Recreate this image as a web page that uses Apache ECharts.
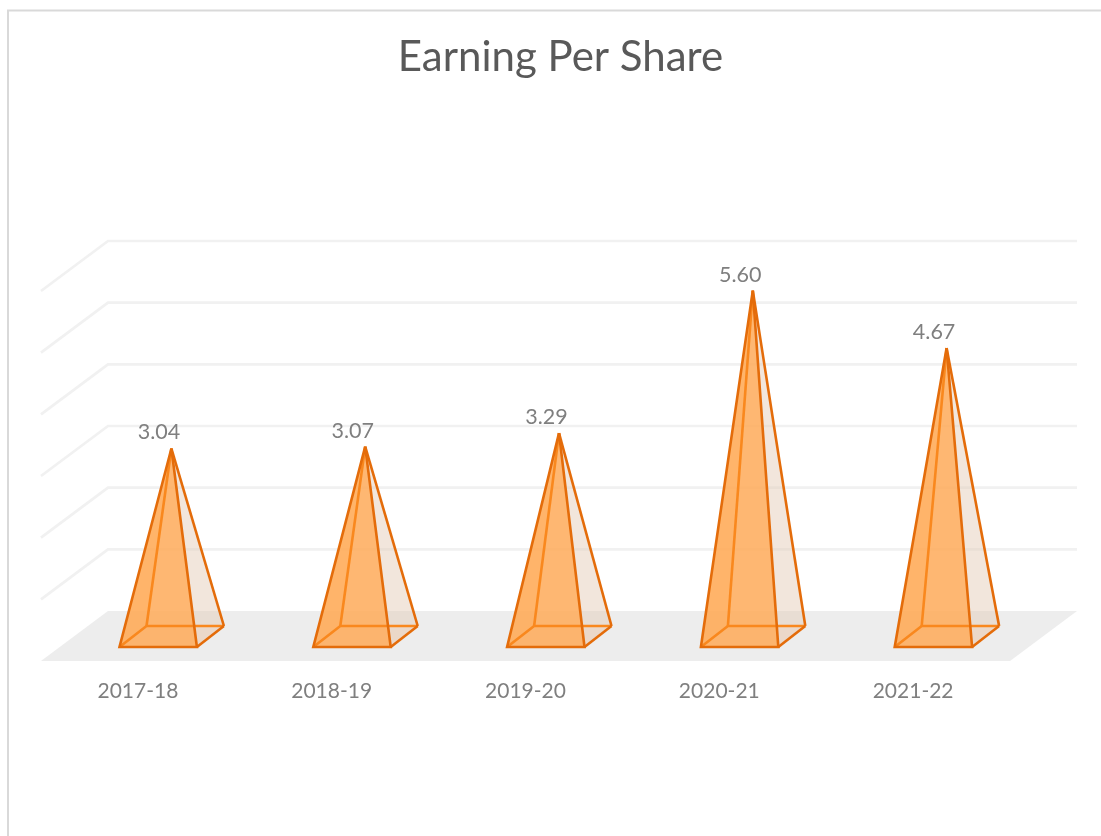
<!DOCTYPE html>
<html>
<head>
<meta charset="utf-8">
<title>Earning Per Share</title>
<script src="https://cdn.jsdelivr.net/npm/echarts@6/dist/echarts.min.js"></script>
<style>
    html, body { margin: 0; padding: 0; background: #fff; overflow: hidden; }
    #chart { width: 1101px; height: 836px; }
</style>
</head>
<body>
<div id="chart"></div>
<script>
const categories = ['2017-18', '2018-19', '2019-20', '2020-21', '2021-22'];
const eps = [3.04, 3.07, 3.29, 5.60, 4.67];
const wallTicks = [1, 2, 3, 4, 5, 6];

// oblique depth of the fake 3d box
const DEPTH_X = 67;
const DEPTH_Y = 50;
const FONT = 'Lato, "Open Sans", sans-serif';

const chart = echarts.init(document.getElementById('chart'));

function renderWallLine(params, api) {
    const sys = params.coordSys;
    const y = api.coord([0, api.value(0)])[1];
    return {
        type: 'polyline',
        shape: {
            points: [
                [sys.x, y],
                [sys.x + DEPTH_X, y - DEPTH_Y],
                [sys.x + sys.width + DEPTH_X, y - DEPTH_Y]
            ]
        },
        style: { fill: null, stroke: '#F1F1F1', lineWidth: 2.6 }
    };
}

function renderFloor(params, api) {
    const sys = params.coordSys;
    const y = api.coord([0, 0])[1];
    return {
        type: 'polygon',
        shape: {
            points: [
                [sys.x, y],
                [sys.x + DEPTH_X, y - DEPTH_Y],
                [sys.x + sys.width + DEPTH_X, y - DEPTH_Y],
                [sys.x + sys.width, y]
            ]
        },
        style: { fill: '#EDEDED' }
    };
}

function renderPyramid(params, api) {
    const cx = api.coord([api.value(0), 0])[0];
    const y0 = api.coord([0, 0])[1];
    const top = api.coord([0, api.value(1)])[1];
    const apex = [cx + DEPTH_X / 2, top - DEPTH_Y / 2];
    const fl = [cx - 18.4, y0 - 14];
    const fr = [cx + 59, y0 - 14];
    const bl = [cx + 8.6, y0 - 35];
    const br = [cx + 86, y0 - 35];
    const dark = '#E46C0A';
    const light = '#F9881E';
    const face = (pts, fill) => ({
        type: 'polygon',
        shape: { points: pts },
        style: { fill: fill }
    });
    const edge = (pts, color) => ({
        type: 'polyline',
        shape: { points: pts },
        style: { fill: null, stroke: color, lineWidth: 2.6, lineJoin: 'miter' }
    });
    return {
        type: 'group',
        children: [
            face([bl, br, apex], 'rgba(232, 214, 198, 0.25)'),
            face([br, fr, apex], 'rgba(226, 200, 178, 0.32)'),
            face([fl, bl, br, fr], 'rgba(247, 160, 80, 0.12)'),
            face([fl, bl, apex], 'rgba(254, 172, 92, 0.35)'),
            face([fl, fr, apex], 'rgba(255, 170, 85, 0.82)'),
            edge([fl, bl, br], light),
            edge([bl, apex], light),
            edge([br, fr], dark),
            edge([br, apex], dark),
            edge([apex, fl, fr, apex], dark),
            {
                type: 'text',
                style: {
                    x: apex[0] - 12.5,
                    y: apex[1] - 16,
                    text: api.value(1).toFixed(2),
                    fill: '#7F7F7F',
                    font: '21.5px ' + FONT,
                    align: 'center',
                    verticalAlign: 'middle'
                }
            }
        ]
    };
}

chart.setOption({
    animation: false,
    backgroundColor: '#FFFFFF',
    title: {
        text: 'Earning Per Share',
        left: 555.5,
        top: 31,
        textAlign: 'center',
        textStyle: {
            color: '#595959',
            fontFamily: FONT,
            fontWeight: 'normal',
            fontSize: 42
        }
    },
    grid: { left: 41, top: 291, width: 969, height: 370 },
    xAxis: {
        type: 'category',
        data: categories,
        axisLine: { show: false },
        axisTick: { show: false },
        axisLabel: {
            color: '#7F7F7F',
            fontFamily: FONT,
            fontSize: 21,
            margin: 20
        }
    },
    yAxis: {
        type: 'value',
        min: 0,
        max: 6,
        interval: 1,
        show: false
    },
    // chart area frame, only top and left edge are in the picture
    graphic: [
        {
            type: 'polyline',
            shape: { points: [[8, 836], [8, 10.5], [1101, 10.5]] },
            style: { fill: null, stroke: '#D9D9D9', lineWidth: 2 }
        }
    ],
    series: [
        {
            type: 'custom',
            name: 'floor',
            silent: true,
            renderItem: renderFloor,
            data: [0]
        },
        {
            type: 'custom',
            name: 'walls',
            silent: true,
            renderItem: renderWallLine,
            encode: { y: 0 },
            data: wallTicks
        },
        {
            type: 'custom',
            name: 'Earning Per Share',
            renderItem: renderPyramid,
            encode: { x: 0, y: 1 },
            data: eps.map((v, i) => [i, v])
        }
    ]
});
</script>
</body>
</html>
